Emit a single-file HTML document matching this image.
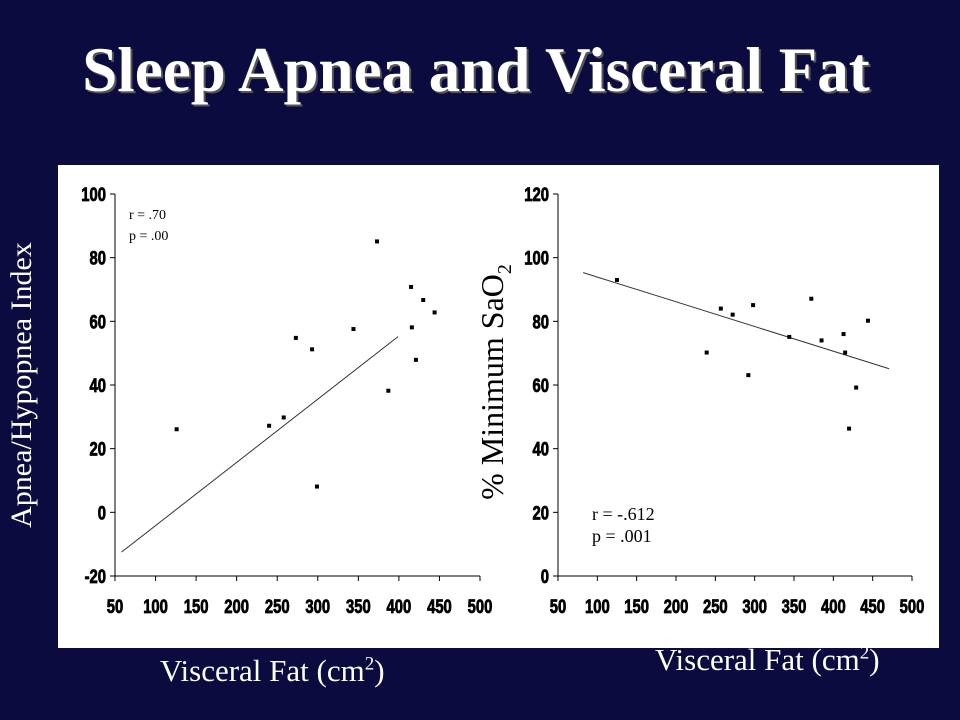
<!DOCTYPE html>
<html><head><meta charset="utf-8"><style>
html,body{margin:0;padding:0;background:#0b0b40;}
#wrap{position:relative;width:960px;height:720px;overflow:hidden;background:#0b0b40;font-family:"Liberation Serif",serif;}
.t{position:absolute;color:#fff;white-space:nowrap;}
</style></head><body>
<div id="wrap">
<div class="t" style="left:0;width:952px;top:34px;text-align:center;font-size:63px;font-weight:bold;text-shadow:2px 2px 0 #555;">Sleep Apnea and Visceral Fat</div>
<div style="position:absolute;left:58px;top:165px;width:881px;height:483px;background:#fff;"></div>
<div class="t" style="left:22px;top:385px;font-size:30px;transform:translate(-50%,-50%) rotate(-90deg);">Apnea/Hypopnea Index</div>
<div class="t" style="left:160px;top:653px;font-size:31px;">Visceral Fat (cm<sup style="font-size:19px">2</sup>)</div>
<div class="t" style="left:655px;top:642px;font-size:31px;">Visceral Fat (cm<sup style="font-size:19px">2</sup>)</div>
<svg id="svg" width="960" height="720" style="position:absolute;left:0;top:0"></svg>
</div>
<script>
const xTicks=[50,100,150,200,250,300,350,400,450,500];
const leftYTicks=[-20,0,20,40,60,80,100];
const rightYTicks=[0,20,40,60,80,100,120];
const leftX=[126,240,258,273,293,299,344,373,387,415,416,421,430,444];
const leftY=[26.1,27.2,29.8,54.8,51.2,8.1,57.6,85.1,38.2,70.8,58.1,47.9,66.7,62.8];
const leftFitX=[58,399];
const leftFitY=[-12.5,55.2];
const rightX=[125,239,257,272,292,298,344,372,385,413,415,429,420,444];
const rightY=[93.0,70.2,84.0,82.1,63.1,85.1,75.1,87.1,74.0,76.0,70.2,59.2,46.3,80.2];
const rightFitX=[82,471];
const rightFitY=[95.3,65.1];

const NS="http://www.w3.org/2000/svg";
const svg=document.getElementById('svg');
function mk(tag,attrs,parent){const e=document.createElementNS(NS,tag);for(const k in attrs)e.setAttribute(k,attrs[k]);(parent||svg).appendChild(e);return e;}

function chart(prefix,cfg){
  const g=mk('g',{});
  
  
  const sx=v=>cfg.x0+(v-50)/(500-50)*(cfg.x1-cfg.x0);
  const sy=v=>cfg.yb+(v-cfg.ymin)/(cfg.ymax-cfg.ymin)*(cfg.yt-cfg.yb);
  const ax=mk('line',{x1:cfg.x0,y1:cfg.yb,x2:cfg.x1,y2:cfg.yb,stroke:'#000','stroke-width':1},g);
  
  
  const ay=mk('line',{x1:cfg.x0,y1:cfg.yb,x2:cfg.x0,y2:cfg.yt,stroke:'#000','stroke-width':1},g);
  
  
  xTicks.forEach(v=>{
    const x=sx(v);
    mk('line',{x1:x,y1:cfg.yb,x2:x,y2:cfg.yb+5,stroke:'#000'},g);
    const t=mk('text',{x:x,y:cfg.yb+37,'text-anchor':'middle','font-family':'Liberation Sans, sans-serif','font-weight':'bold','font-size':19,fill:'#000',stroke:'#000','stroke-width':0.8,transform:`translate(${x},0) scale(0.78,1) translate(${-x},0)`},g);
    t.textContent=v;
    
    
  });
  cfg.yTicks.forEach(v=>{
    const y=sy(v);
    mk('line',{x1:cfg.x0-5,y1:y,x2:cfg.x0,y2:y,stroke:'#000'},g);
    const t=mk('text',{x:cfg.x0-9,y:y+7,'text-anchor':'end','font-family':'Liberation Sans, sans-serif','font-weight':'bold','font-size':19,fill:'#000',stroke:'#000','stroke-width':0.8,transform:`translate(${cfg.x0-9},0) scale(0.78,1) translate(${-(cfg.x0-9)},0)`},g);
    t.textContent=v;
    
    
  });
  const fl=mk('line',{x1:sx(cfg.fx[0]),y1:sy(cfg.fy[0]),x2:sx(cfg.fx[1]),y2:sy(cfg.fy[1]),stroke:'#333','stroke-width':1},g);
  
  
  cfg.xs.forEach((v,i)=>{
    const r=mk('rect',{x:sx(v)-2,y:sy(cfg.ys[i])-2,width:4,height:4,fill:'#000'},g);
    
    
  });
}
chart('left',{x0:115,x1:480,yb:576,yt:194,ymin:-20,ymax:100,yTicks:leftYTicks,xs:leftX,ys:leftY,fx:leftFitX,fy:leftFitY});
chart('right',{x0:558,x1:912,yb:576,yt:194,ymin:0,ymax:120,yTicks:rightYTicks,xs:rightX,ys:rightY,fx:rightFitX,fy:rightFitY});

function txt(x,y,s,size,name){const t=mk('text',{x:x,y:y,'font-family':'Liberation Serif, serif','font-size':size,fill:'#000'});t.textContent=s;return t;}
txt(129,219,'r = .70',14,'left-r-annotation');
txt(129,240,'p = .00',14,'left-p-annotation');
txt(592,520,'r = -.612',18,'right-r-annotation');
txt(592,542,'p = .001',18,'right-p-annotation');
const yt=mk('text',{x:0,y:0,'font-family':'Liberation Serif, serif','font-size':32,fill:'#000','text-anchor':'middle',transform:'translate(503,382) rotate(-90)'});


yt.innerHTML='% Minimum SaO<tspan font-size="20" dy="8">2</tspan>';
</script>
</body></html>
